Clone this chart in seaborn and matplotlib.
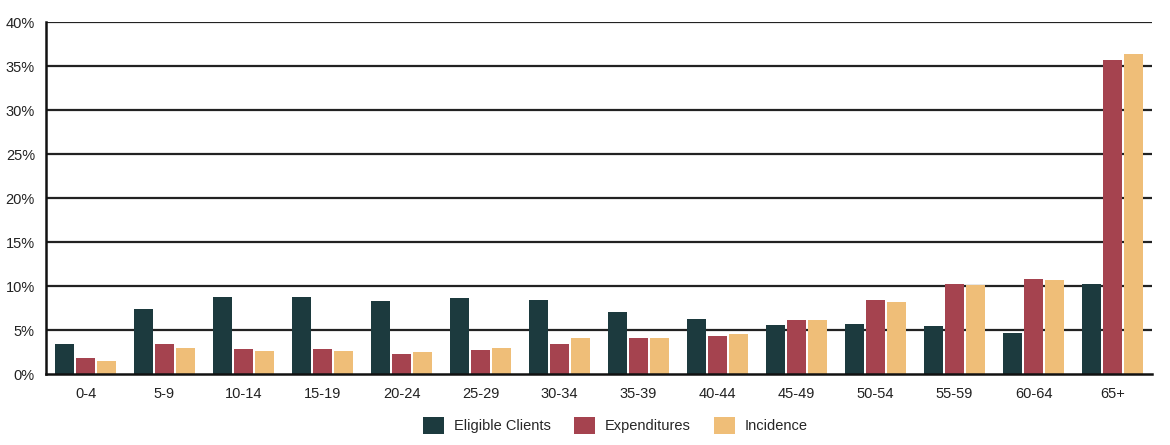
import numpy as np
import pandas as pd
import matplotlib
matplotlib.use("Agg")
import matplotlib.pyplot as plt
import seaborn as sns
from matplotlib.ticker import FixedLocator, PercentFormatter

# Data (percent of total)
age_groups = ["0-4", "5-9", "10-14", "15-19", "20-24", "25-29", "30-34",
              "35-39", "40-44", "45-49", "50-54", "55-59", "60-64", "65+"]
eligible_clients = [3.4, 7.35, 8.8, 8.8, 8.3, 8.6, 8.4, 7.1, 6.2, 5.6, 5.7, 5.5, 4.7, 10.2]
expenditures = [1.8, 3.4, 2.8, 2.8, 2.3, 2.7, 3.4, 4.05, 4.3, 6.1, 8.4, 10.2, 10.8, 35.7]
incidence = [1.5, 3.0, 2.65, 2.65, 2.5, 3.0, 4.05, 4.1, 4.5, 6.1, 8.15, 10.1, 10.7, 36.4]
series_names = ["Eligible Clients", "Expenditures", "Incidence"]
colors = ["#1c3a3e", "#a5434f", "#efbe78"]

df = pd.DataFrame({
    "age": age_groups * 3,
    "series": np.repeat(series_names, len(age_groups)),
    "value": eligible_clients + expenditures + incidence,
})

sns.set_style("white")
plt.rcParams["font.family"] = ["Liberation Sans Narrow", "Liberation Sans", "DejaVu Sans"]

fig = plt.figure(figsize=(11.7, 4.45), dpi=100)
ax = fig.add_axes([46 / 1170, 71 / 445, 1106 / 1170, 352 / 445])

# gridlines
for v in range(5, 45, 5):
    ax.axhline(v, color="#222222", lw=1.6, zorder=0)

sns.barplot(data=df, x="age", y="value", hue="series", palette=colors,
            width=0.8, gap=0.08, ax=ax, zorder=2, saturation=1, linewidth=0)

ax.set_xlim(-0.5, 13.5)
ax.set_ylim(0, 40)
ax.set_yticks(range(0, 45, 5))
ax.yaxis.set_major_formatter(PercentFormatter(decimals=0))
ax.set_xlabel("")
ax.set_ylabel("")

for s in ["top", "right"]:
    ax.spines[s].set_visible(False)
for s in ["left", "bottom"]:
    ax.spines[s].set_color("#111111")
    ax.spines[s].set_linewidth(1.8)

ax.tick_params(axis="x", which="major", length=0, pad=9, labelsize=10.5, colors="#222222")
ax.tick_params(axis="y", which="major", length=0, pad=8, labelsize=10.5, colors="#222222")
ax.xaxis.set_minor_locator(FixedLocator(np.arange(0.5, 14, 1)))
ax.tick_params(axis="x", which="minor", direction="in", length=7, width=1.6, color="#111111")

ax.legend(loc="upper center", bbox_to_anchor=(0.515, -0.085), ncol=3, frameon=False,
          fontsize=10.5, handlelength=1.4, handleheight=1.4, columnspacing=1.6,
          handletextpad=0.7)

fig.savefig("out.png", dpi=100)
